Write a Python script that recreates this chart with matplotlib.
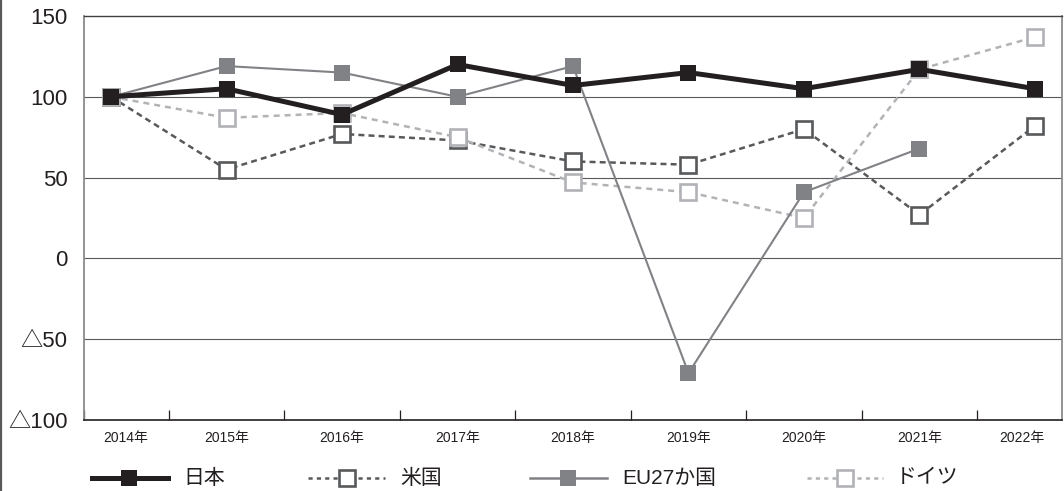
import numpy as np
import matplotlib
matplotlib.use("Agg")
import matplotlib.pyplot as plt
from matplotlib.lines import Line2D
from matplotlib.transforms import ScaledTranslation

plt.rcParams['lines.scale_dashes'] = False

# Index values (2014 = 100)
years = ['2014年', '2015年', '2016年', '2017年', '2018年',
         '2019年', '2020年', '2021年', '2022年']
japan = [100, 105, 89, 120, 107, 115, 105, 117, 105]
usa = [100, 55, 77, 73, 60, 58, 80, 27, 82]
eu27 = [100, 119, 115, 100, 119, -71, 41, 68, np.nan]
germany = [100, 87, 90, 75, 47, 41, 25, 117, 137]

series_names = ['日本', '米国', 'EU27か国', 'ドイツ']
y_ticks = [150, 100, 50, 0, -50, -100]
y_ticklabels = ['150', '100', '50', '0', '△50', '△100']

num_font = ['Liberation Sans', 'Noto Sans CJK JP']
cat_font = ['Liberation Sans Narrow', 'Liberation Sans', 'Noto Sans CJK JP']
jp_font = ['Liberation Sans', 'Noto Sans CJK JP']

C_JP = '#231f20'
C_US = '#58595b'
C_EU = '#808285'
C_DE = '#b1b3b6'
GRID = '#58595b'

W, H = 1064, 491
fig = plt.figure(figsize=(W / 100, H / 100), dpi=100)
ax = fig.add_axes([84 / W, 71 / H, 978 / W, 404 / H])

x = np.arange(len(years))

style = dict(marker='s', markersize=12)
ax.plot(x, usa, color=C_US, lw=1.8, dashes=(4.3, 3.0),
        markerfacecolor='white', markeredgecolor=C_US, markeredgewidth=1.9,
        zorder=3, **style)
ax.plot(x, germany, color=C_DE, lw=1.8, dashes=(4.3, 3.6),
        markerfacecolor='white', markeredgecolor=C_DE, markeredgewidth=1.9,
        zorder=4, **style)
ax.plot(x, eu27, color=C_EU, lw=1.5,
        markerfacecolor=C_EU, markeredgecolor=C_EU, markeredgewidth=0,
        zorder=5, **style)
ax.plot(x, japan, color=C_JP, lw=3.6,
        markerfacecolor=C_JP, markeredgecolor=C_JP, markeredgewidth=0,
        zorder=6, **style)

ax.set_xlim(-0.234, len(years) - 1 + 0.234)
ax.set_ylim(-100, 150)

# horizontal rules
for v in [100, 50, 0, -50]:
    ax.axhline(v, color=GRID, lw=0.8, zorder=1)

# y axis
ax.set_yticks(y_ticks)
ax.set_yticklabels(y_ticklabels, family=num_font, fontsize=16, color='#231f20')
ax.tick_params(axis='y', length=0, pad=12)

# x axis: labels under the points, tick marks between categories
ax.set_xticks(x)
ax.set_xticklabels(years, family=cat_font, fontsize=10, color='#231f20')
ax.set_xticks(list(np.arange(len(years) - 1) + 0.5) + [ax.get_xlim()[0]], minor=True)
ax.tick_params(axis='x', which='major', length=0, pad=8)
ax.tick_params(axis='x', which='minor', direction='in', length=7,
               width=0.9, color='#231f20')
labels = ax.get_xticklabels()
labels[0].set_transform(labels[0].get_transform() +
                        ScaledTranslation(0.15, 0, fig.dpi_scale_trans))
labels[-1].set_transform(labels[-1].get_transform() +
                         ScaledTranslation(-0.13, 0, fig.dpi_scale_trans))

ax.spines['top'].set_color('#414042')
ax.spines['top'].set_linewidth(1.0)
ax.spines['left'].set_color('#8a8a8a')
ax.spines['left'].set_linewidth(1.3)
ax.spines['right'].set_color('#8a8a8a')
ax.spines['right'].set_linewidth(1.3)
ax.spines['bottom'].set_color('#231f20')
ax.spines['bottom'].set_linewidth(1.2)

# frame line along the left edge of the figure
fig.add_artist(Line2D([1.2 / W, 1.2 / W], [0, 1], transform=fig.transFigure,
                      color='#58595b', lw=1.6))

# legend row
lax = fig.add_axes([0, 0, 1, 1], zorder=10)
lax.set_xlim(0, W)
lax.set_ylim(H, 0)
lax.axis('off')
lax.patch.set_alpha(0)

ly = 478
entries = [
    dict(x0=92, x1=168, mx=129, tx=183,
         kw=dict(color=C_JP, lw=3.6, mfc=C_JP, mec=C_JP, mew=0)),
    dict(x0=308, x1=385, mx=347, tx=400,
         kw=dict(color=C_US, lw=1.8, dashes=(3.0, 3.0), mfc='white', mec=C_US, mew=1.9)),
    dict(x0=530, x1=607, mx=568, tx=622,
         kw=dict(color=C_EU, lw=1.8, mfc=C_EU, mec=C_EU, mew=0)),
    dict(x0=807, x1=883, mx=845, tx=896,
         kw=dict(color=C_DE, lw=1.8, dashes=(3.0, 3.0), mfc='white', mec=C_DE, mew=1.9)),
]
for name, e in zip(series_names, entries):
    lax.plot([e['x0'], e['x1']], [ly, ly], **e['kw'])
    lax.plot([e['mx']], [ly], marker='s', markersize=12, linestyle='none',
             markerfacecolor=e['kw']['mfc'], markeredgecolor=e['kw']['mec'],
             markeredgewidth=e['kw']['mew'])
    lax.text(e['tx'], ly, name, family=jp_font, fontsize=15, color='#231f20',
             va='center', ha='left')

fig.savefig('out.png', dpi=100, facecolor='white')
